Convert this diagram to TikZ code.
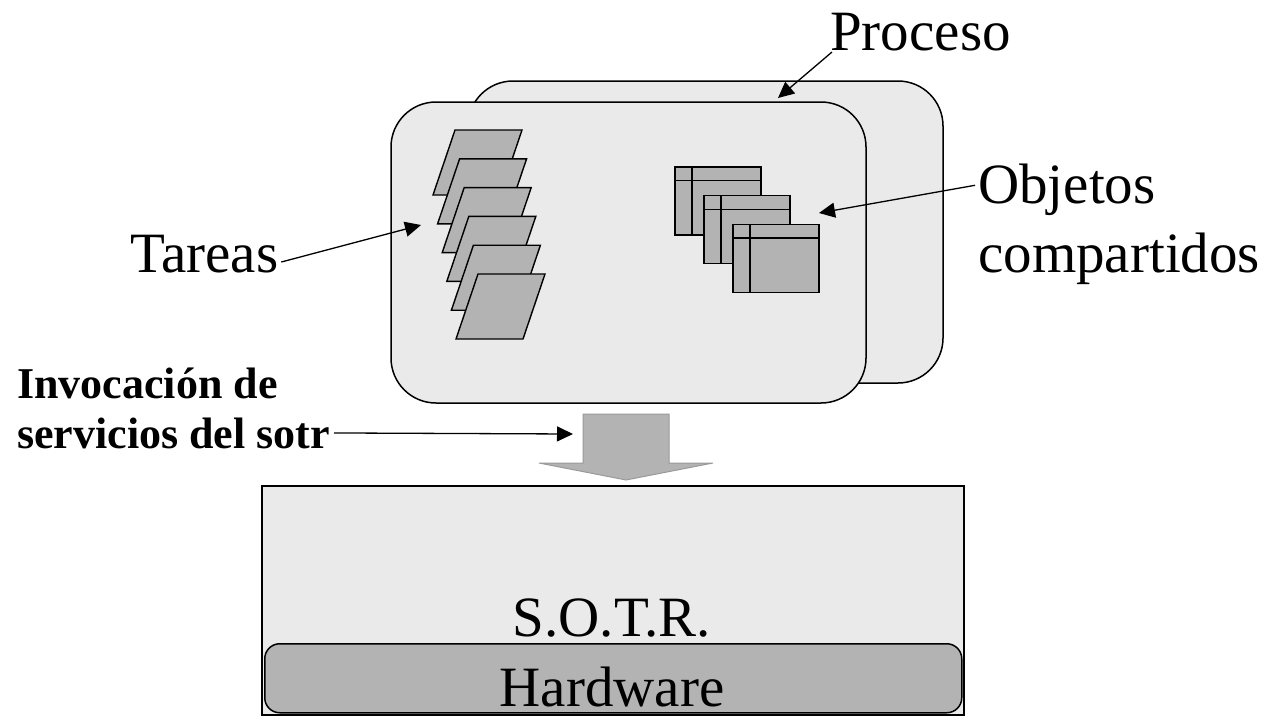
\documentclass[tikz,border=0pt]{standalone}
\usepackage{fontspec}
\setmainfont{Liberation Serif}
\usetikzlibrary{arrows.meta}
\definecolor{paneL}{HTML}{EAEAEA}
\definecolor{paneD}{HTML}{B3B3B3}
\definecolor{rimG}{HTML}{9A9A9A}
\begin{document}
\begin{tikzpicture}[x=1pt,y=-1pt,
  procbox/.style={draw=black,line width=1.5pt,fill=paneL,rounded corners=45pt},
  piece/.style={draw=black,line width=1.4pt,fill=paneD,line join=miter},
  big/.style={font=\fontsize{57}{66}\selectfont,inner sep=0pt},
  small/.style={font=\fontsize{44}{50}\selectfont\bfseries,inner sep=0pt},
  pointer/.style={draw=black,line width=1.3pt,-{Triangle[length=16pt,width=15pt]}}]
\useasboundingbox (0,0) rectangle (1263,716);

% process windows, back and front
\draw[procbox] (468,81) rectangle (943,383);
\draw[procbox] (391,102) rectangle (866,403);

% stack of tasks
\foreach \i in {0,...,5}{
  \draw[piece] ({455+4.6*\i},{130+28.8*\i}) -- ++(67,0) -- ++(-22,65) -- ++(-67,0) -- cycle;
}
\coordinate (taskhit) at (421,225);

% shared objects
\foreach \i in {0,1,2}{
  \begin{scope}[shift={({675+29*\i},{167+28.7*\i})}]
    \draw[piece] (0,0) rectangle (86,68);
    \draw[line width=1.4pt] (0,13.5) -- (86,13.5) (17,0) -- (17,68);
  \end{scope}
}
\coordinate (objhit) at (819,213);

% call into the RTOS
\draw[draw=rimG,line width=1pt,fill=paneD] (583,414) -- (669,414) -- (669,463) -- (713,463)
  -- (626,480) -- (539,463) -- (583,463) -- cycle;
\coordinate (callhit) at (573,434);

% RTOS and hardware layers
\node[draw=black,line width=2pt,fill=paneL,minimum width=702pt,minimum height=229pt,
  anchor=north west,inner sep=0pt] (sotr) at (261,485) {};
\node[draw=black,line width=1.5pt,fill=paneD,rounded corners=15pt,minimum width=697pt,
  minimum height=69pt,anchor=north west,inner sep=0pt] (hw) at (264,643) {};
\node[big,anchor=base] (hwlabel) at (612,706) {Hardware};
\node[big,anchor=base] (sotrlabel) at (612,636) {S.O.T.R.};

% labels
\node[big,anchor=base west] (proc) at (830,50) {Proceso};
\node[big,anchor=base west] (tareas) at (130,272) {Tareas};
\node[big,anchor=base west] (objA) at (978,203) {Objetos};
\node[big,anchor=base west] (objB) at (978,272) {compartidos};
\node[small,anchor=base west] (inv1) at (17,398) {Invocación de};
\node[small,anchor=base west] (inv2) at (17,448) {servicios del sotr};

\coordinate (prochit) at (778,98);
\draw[pointer] ([xshift=2pt,yshift=-2pt]proc.base west) -- (prochit);
\draw[pointer] ([xshift=3pt,yshift=10pt]tareas.base east) -- (taskhit);
\draw[pointer] ([xshift=-3pt,yshift=4pt]objA.west) -- (objhit);
\draw[pointer] ([xshift=4pt]inv2.east) -- (callhit);
\end{tikzpicture}
\end{document}
